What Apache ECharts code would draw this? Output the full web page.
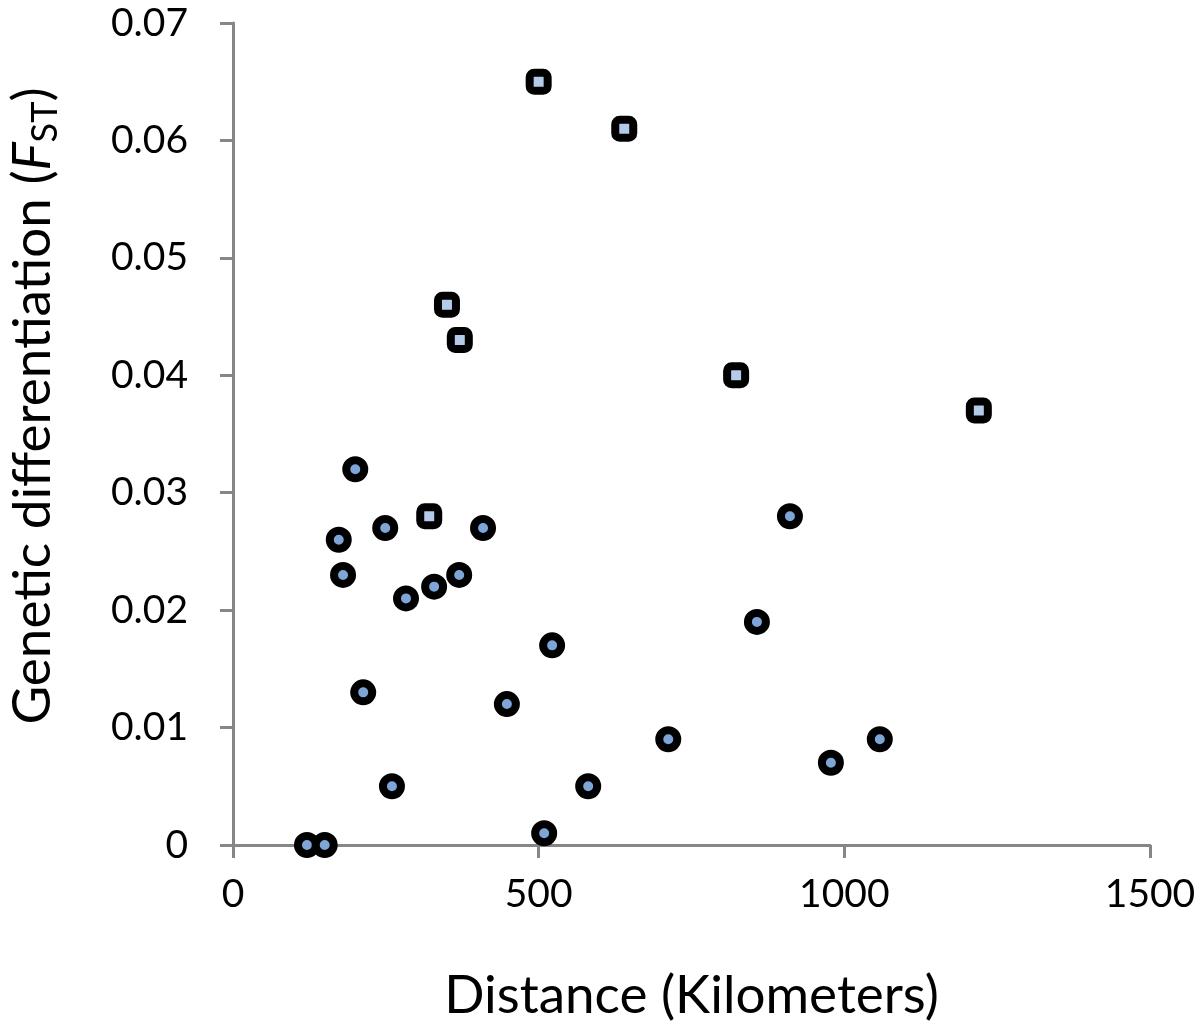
<!DOCTYPE html>
<html>
	<head>
		<meta charset="UTF-8">
		<title>Genetic differentiation vs distance</title>
		<script src="https://cdn.jsdelivr.net/npm/echarts@6/dist/echarts.min.js" type="text/javascript"></script>
		<style>
			html, body { margin: 0; padding: 0; background: #fff; }
			#chart { width: 1200px; height: 1036px; }
		</style>
	</head>
	<body>
		<div id="chart"></div>
		<script type="text/javascript">
			// circles: distance (km) / FST
			var circleKm = [121, 150, 200, 173, 180, 249, 213, 260, 283, 329, 370, 409, 448, 522, 509, 581, 712, 857, 911, 978, 1058];
			var circleFst = [0, 0, 0.032, 0.026, 0.023, 0.027, 0.013, 0.005, 0.021, 0.022, 0.023, 0.027, 0.012, 0.017, 0.001, 0.005, 0.009, 0.019, 0.028, 0.007, 0.009];
			// squares
			var squareKm = [321, 350, 371, 500, 640, 823, 1220];
			var squareFst = [0.028, 0.046, 0.043, 0.065, 0.061, 0.040, 0.037];

			var font = 'Lato, "Open Sans", sans-serif';
			var axisGray = '#868686';

			function pairs(xs, ys) {
				var out = [];
				for (var i = 0; i < xs.length; i++) {
					out.push([xs[i], ys[i]]);
				}
				return out;
			}

			var myChart = echarts.init(document.getElementById('chart'));
			var option = {
				animation: false,
				grid: {
					left: 233,
					right: 50,
					top: 23,
					bottom: 191,
					containLabel: false,
					outerBoundsMode: 'none'
				},
				xAxis: {
					type: 'value',
					min: 0,
					max: 1500,
					interval: 500,
					name: 'Distance (Kilometers)',
					nameLocation: 'middle',
					nameGap: 124,
					nameTextStyle: { fontFamily: font, fontSize: 53, color: '#000' },
					axisLine: { show: true, onZero: false, lineStyle: { color: axisGray, width: 3 } },
					axisTick: { show: true, length: 13, lineStyle: { color: axisGray, width: 3 } },
					axisLabel: {
						fontFamily: font, fontSize: 39, color: '#000', margin: 30,
						formatter: function (v) { return String(v); }
					},
					splitLine: { show: false }
				},
				yAxis: {
					type: 'value',
					min: 0,
					max: 0.07,
					interval: 0.01,
					name: '{n|Genetic differentiation (}{i|F}{s|ST}{n|)}',
					nameLocation: 'middle',
					nameRotate: 90,
					nameGap: 170,
					nameTextStyle: {
						padding: [0, 0, 0, 56],
						rich: {
							n: { fontFamily: font, fontSize: 53, color: '#000', lineHeight: 60 },
							i: { fontFamily: font, fontSize: 53, color: '#000', fontStyle: 'italic', lineHeight: 60 },
							s: { fontFamily: font, fontSize: 36, color: '#000', verticalAlign: 'bottom', lineHeight: 60 }
						}
					},
					axisLine: { show: true, lineStyle: { color: axisGray, width: 3 } },
					axisTick: { show: true, length: 13, lineStyle: { color: axisGray, width: 3 } },
					axisLabel: { fontFamily: font, fontSize: 39, color: '#000', margin: 45 },
					splitLine: { show: false }
				},
				series: [
					{
						name: 'circle',
						type: 'scatter',
						symbol: 'circle',
						symbolSize: 18,
						itemStyle: { color: '#7da5d8', borderColor: '#000', borderWidth: 8, opacity: 1 },
						data: pairs(circleKm, circleFst)
					},
					{
						name: 'square',
						type: 'scatter',
						symbol: 'roundRect',
						symbolSize: 18,
						itemStyle: { color: '#b3cae8', borderColor: '#000', borderWidth: 8, opacity: 1 },
						data: pairs(squareKm, squareFst)
					}
				]
			};
			myChart.setOption(option);
		</script>
	</body>
</html>
